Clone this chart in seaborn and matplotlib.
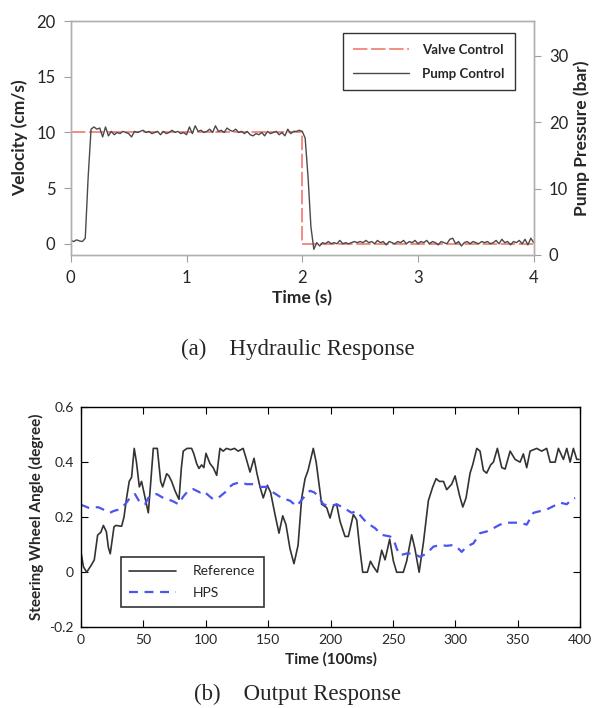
import matplotlib as mpl
import matplotlib.pyplot as plt
import numpy as np
import pandas as pd
import seaborn as sns

# ---- panel (a): hydraulic response ----
valve_t = [0, 2, 2, 4]
valve_v = [10, 10, 0, 0]

# pump control velocity, sampled every 0.025 s from 0 to 4 s
pump_v = [
    0.3, 0.2, 0.35, 0.25, 0.2, 0.5, 6.0, 10.3,
    10.5, 10.3, 10.4, 9.6, 10.5, 9.7, 10.1, 9.8,
    10.0, 9.9, 10.1, 10.0, 9.9, 9.6, 10.1, 10.0,
    10.1, 10.2, 10.0, 10.1, 9.9, 10.0, 10.1, 9.8,
    10.1, 9.9, 10.0, 10.2, 10.0, 10.1, 9.9, 10.0,
    9.8, 10.5, 9.9, 10.6, 10.1, 10.2, 10.0, 10.1,
    10.3, 10.0, 10.6, 10.1, 10.2, 10.0, 10.4, 10.2,
    10.1, 10.3, 10.0, 10.1, 9.9, 10.1, 9.8, 9.7,
    9.9, 9.8, 10.0, 9.7, 10.1, 9.9, 10.0, 10.1,
    9.8, 10.0, 9.7, 10.3, 9.9, 10.1, 10.1, 10.2,
    10.1, 9.5, 6.0, 1.5, -0.5, 0.1, -0.2, 0.1,
    0.0, 0.2, 0.0, 0.1, 0.0, 0.3, 0.0, 0.1,
    0.0, 0.1, 0.2, 0.1, 0.2, 0.1, 0.3, 0.1,
    0.2, 0.0, 0.3, 0.1, 0.2, -0.1, 0.2, 0.1,
    0.0, 0.2, 0.1, 0.3, 0.0, 0.2, 0.1, 0.3,
    0.0, 0.2, 0.1, 0.3, 0.0, 0.2, 0.1, -0.1,
    0.2, 0.1, 0.0, 0.4, 0.5, 0.0, 0.2, -0.2,
    0.1, 0.2, 0.0, 0.2, 0.1, 0.0, 0.2, 0.1,
    0.2, 0.0, 0.1, 0.3, 0.0, 0.4, 0.1, 0.2,
    -0.1, 0.2, 0.1, 0.3, 0.0, 0.4, -0.1, 0.5,
    0.1,
]
pump_t = np.linspace(0, 4, len(pump_v))

# ---- panel (b): output response ----
ref_t = [0, 2, 4.6, 8.2, 10.7, 13.4, 15.9, 18, 20.4, 22, 23.5, 26.5, 28, 32.6, 34.5,
         36.6, 38.7, 40.6, 42.7, 44.5, 46.8, 48.6, 50.5, 52, 54, 56, 58, 61.2, 63.9,
         65.5, 68.7, 70.5, 72.7, 75.4, 77, 78.6, 80.5, 82, 85, 88.7, 90.5, 92.7, 94.6,
         96.7, 98.5, 100.2, 103.4, 106, 108.8, 111.4, 114, 116.6, 120, 123, 126, 130,
         132.8, 135.5, 138.7, 141, 143.5, 146.1, 149.4, 152, 155.5, 158.7, 161.7, 164.3,
         167.5, 170.7, 174, 176.9, 179.6, 182, 186.2, 188.5, 190.2, 192.9, 196.9, 199.6,
         202.2, 204.9, 207.6, 211.6, 214.3, 218.3, 221, 223.1, 225.8, 229.5, 232, 234.4,
         237.5, 241, 243.7, 247.4, 250.4, 253, 258.3, 261, 265, 267.6, 271, 274.5, 278.4,
         281.9, 284.6, 287.2, 290.5, 293.1, 297.1, 299.8, 303.3, 306, 308.6, 311.8, 313.9,
         317.2, 319.8, 322.5, 325.1, 328.3, 330.5, 333.7, 337.2, 339.9, 343.9, 347.9,
         351.9, 354.5, 357.2, 359.9, 365.2, 369.2, 373.2, 376, 380, 382.6, 386.6, 389.3,
         392, 394.6, 397.3, 399]
ref_v = [0.075, 0.02, 0.0, 0.025, 0.045, 0.135, 0.145, 0.17, 0.147, 0.09, 0.067, 0.165,
         0.17, 0.167, 0.2, 0.27, 0.33, 0.345, 0.45, 0.40, 0.31, 0.33, 0.29, 0.26, 0.216,
         0.33, 0.45, 0.45, 0.33, 0.31, 0.358, 0.35, 0.33, 0.296, 0.28, 0.265, 0.38, 0.44,
         0.45, 0.45, 0.43, 0.395, 0.377, 0.39, 0.38, 0.432, 0.395, 0.38, 0.352, 0.45, 0.44,
         0.45, 0.445, 0.45, 0.44, 0.45, 0.407, 0.364, 0.414, 0.36, 0.31, 0.27, 0.316, 0.29,
         0.21, 0.142, 0.205, 0.173, 0.086, 0.031, 0.098, 0.27, 0.34, 0.37, 0.45, 0.40,
         0.34, 0.247, 0.235, 0.197, 0.24, 0.247, 0.185, 0.13, 0.13, 0.21, 0.19, 0.1, 0.0,
         0.0, 0.04, 0.02, 0.0, 0.08, 0.045, 0.12, 0.04, 0.0, 0.0, 0.04, 0.136, 0.086, 0.0,
         0.11, 0.26, 0.31, 0.34, 0.33, 0.33, 0.30, 0.32, 0.35, 0.28, 0.237, 0.27, 0.36,
         0.39, 0.45, 0.44, 0.37, 0.36, 0.39, 0.40, 0.45, 0.38, 0.375, 0.44, 0.41, 0.40,
         0.43, 0.38, 0.44, 0.45, 0.44, 0.45, 0.40, 0.40, 0.45, 0.41, 0.45, 0.40, 0.45,
         0.41, 0.41]

hps_t = [0, 3, 6.7, 10, 14, 17, 20, 23.2, 26, 29.6, 32.6, 36, 39.3, 43.3, 47.3, 51.3,
         54, 57, 60.7, 66, 69, 72.7, 75, 78.1, 82, 86, 90, 95.4, 98, 102, 106, 110,
         115.4, 119, 122.1, 127.4, 132.8, 138.1, 143.5, 148.8, 154.1, 160.8, 167.5, 172.8,
         178.2, 183.6, 187, 190.2, 194.2, 199.6, 204.9, 210.3, 216.9, 221, 225, 229,
         235.7, 241, 247.7, 250.5, 253, 255.7, 261, 266.3, 271.7, 277, 282.4, 287.7,
         293.1, 298.4, 302, 305.1, 309.1, 314.5, 319.8, 325.1, 330.5, 335.8, 341.2,
         346.5, 351.9, 357.2, 362.6, 367.9, 373.2, 378.6, 383.9, 389.3, 393.3, 396]
hps_v = [0.245, 0.24, 0.233, 0.236, 0.236, 0.23, 0.223, 0.216, 0.222, 0.227, 0.235, 0.25,
         0.27, 0.284, 0.253, 0.247, 0.27, 0.28, 0.284, 0.27, 0.265, 0.26, 0.255, 0.247,
         0.275, 0.296, 0.302, 0.29, 0.296, 0.28, 0.265, 0.27, 0.29, 0.31, 0.32, 0.327,
         0.32, 0.32, 0.31, 0.31, 0.29, 0.27, 0.26, 0.24, 0.27, 0.296, 0.29, 0.277, 0.247,
         0.24, 0.247, 0.235, 0.216, 0.222, 0.2, 0.18, 0.16, 0.136, 0.13, 0.12, 0.086,
         0.062, 0.068, 0.068, 0.056, 0.068, 0.093, 0.099, 0.096, 0.099, 0.088, 0.074,
         0.093, 0.105, 0.142, 0.148, 0.16, 0.173, 0.18, 0.18, 0.18, 0.173, 0.216, 0.222,
         0.228, 0.24, 0.253, 0.247, 0.265, 0.27]

a_xticks = [0, 1, 2, 3, 4]
a_yticks = [0, 5, 10, 15, 20]
a_y2ticks = [0, 10, 20, 30]
b_xticks = [0, 50, 100, 150, 200, 250, 300, 350, 400]
b_yticks = [-0.2, 0, 0.2, 0.4, 0.6]
b_yticklabels = ['-0.2', '0', '0.2', '0.4', '0.6']

sns.set_style('white')
plt.rcParams['font.family'] = ['Lato', 'DejaVu Sans']

fig = plt.figure(figsize=(5.95, 7.08), dpi=100)

# ---------- (a) ----------
ax = fig.add_axes([0.119, 0.640, 0.778, 0.330])
sns.lineplot(x=valve_t, y=valve_v, ax=ax, color='#f2837a', lw=1.3,
             label='Valve Control', sort=False, estimator=None)
ax.lines[-1].set_dashes([8, 2])
sns.lineplot(x=pump_t, y=pump_v, ax=ax, color='#4a4a4a', lw=1.0,
             label='Pump Control', sort=False, estimator=None)
ax.set_xlim(0, 4)
ax.set_ylim(-1, 20)
ax.set_xticks(a_xticks)
ax.set_yticks(a_yticks)
ax.set_xlabel('Time (s)', fontsize=12.5, fontweight='bold', labelpad=3)
ax.set_ylabel('Velocity (cm/s)', fontsize=12.5, fontweight='bold', labelpad=6)
ax.tick_params(labelsize=12, direction='out', length=5, color='#a0a0a0',
               left=True, bottom=True, pad=6)
for s in ax.spines.values():
    s.set_color('#b0b0b0')
    s.set_linewidth(1.0)

ax_r = ax.twinx()
ax_r.set_ylim(0, 35.2)
ax_r.set_yticks(a_y2ticks)
ax_r.set_ylabel('Pump Pressure (bar)', fontsize=12.5, fontweight='bold', labelpad=4)
ax_r.tick_params(labelsize=12, direction='out', length=5, color='#a0a0a0',
                 right=True, pad=6)
for s in ax_r.spines.values():
    s.set_color('#b0b0b0')
    s.set_linewidth(1.0)

leg = ax.legend(loc='upper left', bbox_to_anchor=(0.587, 0.949), borderaxespad=0,
                frameon=True, fancybox=False, edgecolor='black', handlelength=4.2,
                borderpad=0.8, labelspacing=0.9, handletextpad=1.0,
                prop={'size': 9.5, 'weight': 'bold'})
leg.get_frame().set_linewidth(1.0)

fig.text(0.5, 0.507, '(a)    Hydraulic Response', ha='center', va='center',
         fontsize=16.5, family='Liberation Serif')

# ---------- (b) ----------
bx = fig.add_axes([0.136, 0.114, 0.839, 0.311])
sns.lineplot(x=ref_t, y=ref_v, ax=bx, color='#333333', lw=1.2,
             label='Reference', sort=False, estimator=None)
sns.lineplot(x=hps_t, y=hps_v, ax=bx, color='#4a55f0', lw=1.6,
             label='HPS', sort=False, estimator=None)
bx.lines[-1].set_dashes([4, 3])
bx.set_xlim(0, 400)
bx.set_ylim(-0.2, 0.6)
bx.set_xticks(b_xticks)
bx.set_yticks(b_yticks)
bx.set_yticklabels(b_yticklabels)
bx.set_xlabel('Time (100ms)', fontsize=11, fontweight='bold', labelpad=4)
bx.set_ylabel('Steering Wheel Angle (degree)', fontsize=11, fontweight='bold', labelpad=4)
bx.tick_params(labelsize=10, direction='in', length=5, color='black',
               left=True, bottom=True, top=True, right=True, pad=5)
for s in bx.spines.values():
    s.set_color('black')
    s.set_linewidth(1.0)

leg2 = bx.legend(loc='lower left', bbox_to_anchor=(0.08, 0.09), borderaxespad=0,
                 frameon=True, fancybox=False, edgecolor='black', handlelength=3.4,
                 borderpad=0.6, labelspacing=0.7, handletextpad=1.2,
                 prop={'size': 10})
leg2.get_frame().set_linewidth(1.2)

fig.text(0.5, 0.019, '(b)    Output Response', ha='center', va='center',
         fontsize=16.5, family='Liberation Serif')

fig.savefig('out.png', dpi=100)
